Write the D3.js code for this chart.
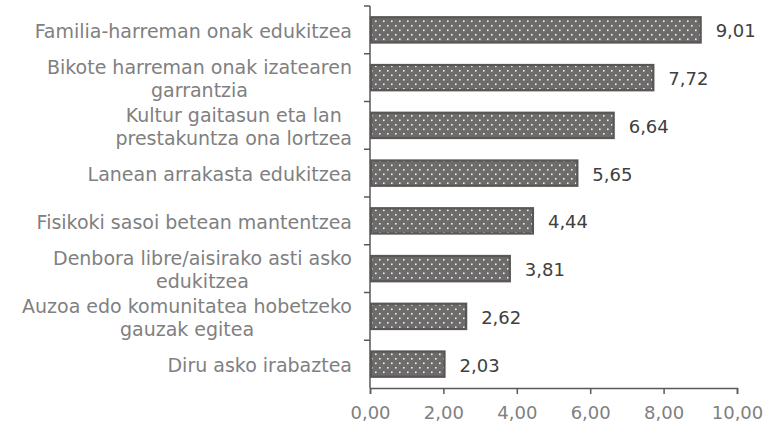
<!DOCTYPE html>
<html>
<head>
<meta charset="utf-8">
<script src="https://cdn.jsdelivr.net/npm/d3@7"></script>
<style>
  body { margin: 0; background: #fff; }
  text { font-family: "DejaVu Sans", Verdana, sans-serif; }
</style>
</head>
<body>
<div id="vis"></div>
<script>
// categories (top to bottom), each one split into its lines
let categories = [
  ['Familia-harreman onak edukitzea'],
  ['Bikote harreman onak izatearen', 'garrantzia'],
  ['Kultur gaitasun eta lan ', 'prestakuntza ona lortzea'],
  ['Lanean arrakasta edukitzea'],
  ['Fisikoki sasoi betean mantentzea'],
  ['Denbora libre/aisirako asti asko', 'edukitzea'],
  ['Auzoa edo komunitatea hobetzeko', 'gauzak egitea'],
  ['Diru asko irabaztea']
];
let values = [9.01, 7.72, 6.64, 5.65, 4.44, 3.81, 2.62, 2.03];
let xTicks = [0, 2, 4, 6, 8, 10];

let width = 783;
let height = 427;
let margin = { top: 6, left: 370, bottom: 39, right: 46 };
let innerW = width - margin.left - margin.right;
let innerH = height - margin.top - margin.bottom;

let fmt = v => d3.format('.2f')(v).replace('.', ',');

let svg = d3.select('#vis').append('svg')
  .attr('width', width)
  .attr('height', height);

// dotted fill for the bars
let pat = svg.append('defs').append('pattern')
  .attr('id', 'dots')
  .attr('patternUnits', 'userSpaceOnUse')
  .attr('width', 8).attr('height', 9);
pat.append('rect').attr('width', 8).attr('height', 9).attr('fill', '#6e6b6b');
pat.append('rect').attr('x', 1).attr('y', 1).attr('width', 1.6).attr('height', 1.6).attr('fill', '#f2f2f2');
pat.append('rect').attr('x', 5).attr('y', 5.5).attr('width', 1.6).attr('height', 1.6).attr('fill', '#f2f2f2');

let g = svg.append('g')
  .attr('transform', 'translate(' + margin.left + ',' + margin.top + ')');

let x = d3.scaleLinear().domain([0, 10]).range([0, innerW]);
let y = d3.scaleBand().domain(d3.range(categories.length)).range([0, innerH]).paddingInner(0.47).paddingOuter(0.235);
let yAxisScale = d3.scaleBand().domain(d3.range(categories.length)).range([0, innerH]);

// bars
g.selectAll('.bar')
  .data(values)
  .join('rect')
  .attr('class', 'bar')
  .attr('x', x(0) + 1)
  .attr('y', (d, i) => y(i))
  .attr('width', d => x(d) - x(0) - 1)
  .attr('height', y.bandwidth())
  .attr('fill', 'url(#dots)')
  .attr('stroke', '#585656')
  .attr('stroke-width', 2.2);

// value labels
g.selectAll('.val')
  .data(values)
  .join('text')
  .attr('class', 'val')
  .attr('x', d => x(d) + 15)
  .attr('y', (d, i) => y(i) + y.bandwidth() / 2 + 1)
  .attr('dy', '0.36em')
  .attr('font-size', 18)
  .attr('fill', '#404040')
  .text(d => fmt(d));

// y axis: line plus ticks between categories
let axisColor = '#595959';
g.append('line')
  .attr('x1', 0).attr('x2', 0)
  .attr('y1', 0).attr('y2', innerH)
  .attr('stroke', axisColor).attr('stroke-width', 1.5);
let yTickPos = d3.range(categories.length).map(i => yAxisScale(i));
g.selectAll('.ytick')
  .data(yTickPos)
  .join('line')
  .attr('class', 'ytick')
  .attr('x1', -6).attr('x2', 0)
  .attr('y1', d => d).attr('y2', d => d)
  .attr('stroke', axisColor).attr('stroke-width', 1.5);

// category labels: block right aligned, each line centred in the block
let labelRight = -18;
let lineH = 23;
categories.forEach(function (lines, i) {
  let cy = yAxisScale(i) + yAxisScale.bandwidth() / 2 + 1;
  let top = cy - (lines.length - 1) * lineH / 2;
  let texts = lines.map(function (l, j) {
    return g.append('text')
      .attr('class', 'cat')
      .attr('x', 0)
      .attr('font-size', 19)
      .attr('fill', '#808080')
      .attr('y', top + j * lineH)
      .attr('dy', '0.36em')
      .text(l.trim());
  });
  let widths = texts.map(t => t.node().getComputedTextLength());
  let maxW = d3.max(widths);
  texts.forEach(function (t, j) {
    t.attr('x', labelRight - maxW + (maxW - widths[j]) / 2);
  });
});

// x axis
let xAxis = d3.axisBottom(x)
  .tickValues(xTicks)
  .tickSize(6)
  .tickFormat(fmt);
let xg = g.append('g')
  .attr('transform', 'translate(0,' + innerH + ')')
  .call(xAxis);
xg.select('.domain').attr('stroke', axisColor).attr('stroke-width', 1.5);
xg.selectAll('.tick line').attr('stroke', axisColor).attr('stroke-width', 1.5);
xg.selectAll('.tick text')
  .attr('font-family', '"DejaVu Sans", Verdana, sans-serif')
  .attr('font-size', 18)
  .attr('fill', '#808080')
  .attr('dy', '1.2em');
</script>
</body>
</html>
